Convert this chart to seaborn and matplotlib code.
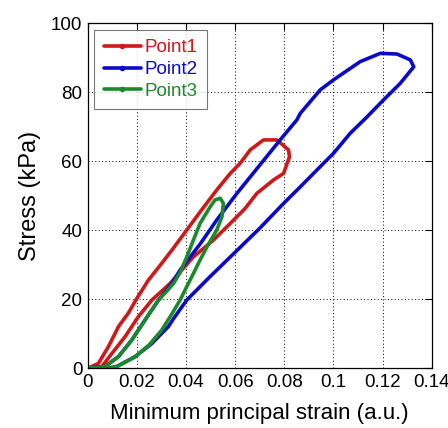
import numpy as np
import pandas as pd
import matplotlib
matplotlib.use("Agg")
import matplotlib.pyplot as plt
from matplotlib.lines import Line2D
import seaborn as sns

# ---- data ----
p1_strain = [0, 0.0043, 0.0084, 0.0125, 0.0165, 0.020, 0.0247, 0.0294, 0.0345, 0.0403,
             0.046, 0.0525, 0.058, 0.062, 0.0661, 0.0715, 0.077, 0.0817, 0.0821, 0.0797,
             0.0756, 0.0688, 0.064, 0.058, 0.0512, 0.043, 0.0335, 0.0261, 0.0206, 0.0152,
             0.0098, 0.0057, 0]
p1_stress = [0, 1.4, 6.3, 12.1, 16.0, 20.3, 25.6, 29.8, 34.5, 40.1,
             45.6, 51.7, 56.5, 59.4, 63.3, 66.2, 66.2, 63.3, 61.3, 56.5,
             54.6, 50.7, 46.3, 42.0, 37.2, 32.3, 24.6, 19.8, 15.0, 9.2,
             4.3, 0.5, 0]

p2_strain = [0, 0.003, 0.007, 0.0125, 0.0179, 0.0233, 0.0288, 0.0342, 0.0376, 0.0457,
             0.0525, 0.0607, 0.0783, 0.0851, 0.0865, 0.0946, 0.1, 0.1109, 0.1191, 0.1259,
             0.1313, 0.1327, 0.1272, 0.1204, 0.1137, 0.1068, 0.1, 0.0933, 0.0865, 0.0797,
             0.0700, 0.0566, 0.0498, 0.0403, 0.035, 0.0328, 0.0261, 0.0193, 0.011,
             0.005, 0]
p2_stress = [0, 0.3, 0.5, 3.4, 8.2, 14.0, 19.8, 24.6, 28.5, 36.0,
             43.0, 50.7, 66.2, 72.0, 73.9, 80.7, 83.6, 88.9, 91.3, 91.1,
             89.4, 87.4, 82.6, 77.8, 72.9, 68.1, 62.3, 57.5, 52.6, 47.8,
             40.6, 31.3, 26.6, 19.8, 14.5, 12.1, 7.2, 3.4, 0.2,
             0, 0]

p3_strain = [0, 0.007, 0.0125, 0.0179, 0.0233, 0.0288, 0.0322, 0.0349, 0.0376, 0.0403,
             0.043, 0.0457, 0.0498, 0.0518, 0.0539, 0.0552, 0.0546, 0.0525, 0.0485, 0.0457,
             0.043, 0.0403, 0.0376, 0.034, 0.030, 0.025, 0.019, 0.012, 0.005, 0]
p3_stress = [0, 0.5, 3.4, 8.2, 14.0, 19.8, 22.4, 24.6, 27.8, 32.3,
             37.2, 42.0, 46.8, 48.8, 49.3, 47.8, 43.9, 40.1, 35.2, 31.4,
             27.5, 23.7, 19.8, 15.5, 11.0, 6.8, 3.2, 0.6, -0.3, 0]

series_names = ["Point1", "Point2", "Point3"]
colors = ["#d01818", "#0a0ac8", "#1a8a2a"]
x_ticks = [0, 0.02, 0.04, 0.06, 0.08, 0.1, 0.12, 0.14]
x_tick_labels = ["0", "0.02", "0.04", "0.06", "0.08", "0.1", "0.12", "0.14"]
y_ticks = [0, 20, 40, 60, 80, 100]
y_tick_labels = ["0", "20", "40", "60", "80", "100"]

frames = []
for name, xs, ys in zip(series_names,
                        [p1_strain, p2_strain, p3_strain],
                        [p1_stress, p2_stress, p3_stress]):
    frames.append(pd.DataFrame({"strain": xs, "stress": ys, "series": name,
                                "order": np.arange(len(xs))}))
df = pd.concat(frames, ignore_index=True)

sns.set_style("white")
plt.rcParams["font.family"] = ["Liberation Sans", "DejaVu Sans"]
plt.rcParams["text.color"] = "black"
plt.rcParams["axes.labelcolor"] = "black"

fig = plt.figure(figsize=(4.48, 4.28), dpi=100)
ax = fig.add_axes([0.196, 0.1395, 0.7676, 0.806])

sns.lineplot(data=df, x="strain", y="stress", hue="series", units="series",
             estimator=None, sort=False, palette=dict(zip(series_names, colors)),
             linewidth=2.6, ax=ax, legend=False)

ax.set_xlim(0, 0.14)
ax.set_ylim(0, 100)
ax.set_xticks(x_ticks)
ax.set_xticklabels(x_tick_labels)
ax.set_yticks(y_ticks)
ax.set_yticklabels(y_tick_labels)
ax.grid(True, color="black", linestyle=(0, (1, 2.5)), linewidth=0.7)
ax.tick_params(direction="in", length=5, width=0.8, top=True, right=True,
               labelsize=13.5, colors="black", pad=4)
for s in ax.spines.values():
    s.set_color("black")
    s.set_linewidth(0.9)

ax.set_xlabel("Minimum principal strain (a.u.)", fontsize=16, labelpad=9,
              color="black")
ax.set_ylabel("Stress (kPa)", fontsize=17, labelpad=7, color="black")

handles = [Line2D([0], [0], color=c, linewidth=2.6, marker=".", markersize=6)
           for c in colors]
leg = ax.legend(handles, series_names, loc="upper left", fontsize=13.5,
                frameon=True, fancybox=False, edgecolor="#555555",
                handlelength=2.0, handletextpad=0.15, labelspacing=0.25,
                borderpad=0.5, borderaxespad=0.35, numpoints=1)
leg.get_frame().set_linewidth(0.8)
for t, c in zip(leg.get_texts(), colors):
    t.set_color(c)

fig.savefig("out.png", dpi=100)
